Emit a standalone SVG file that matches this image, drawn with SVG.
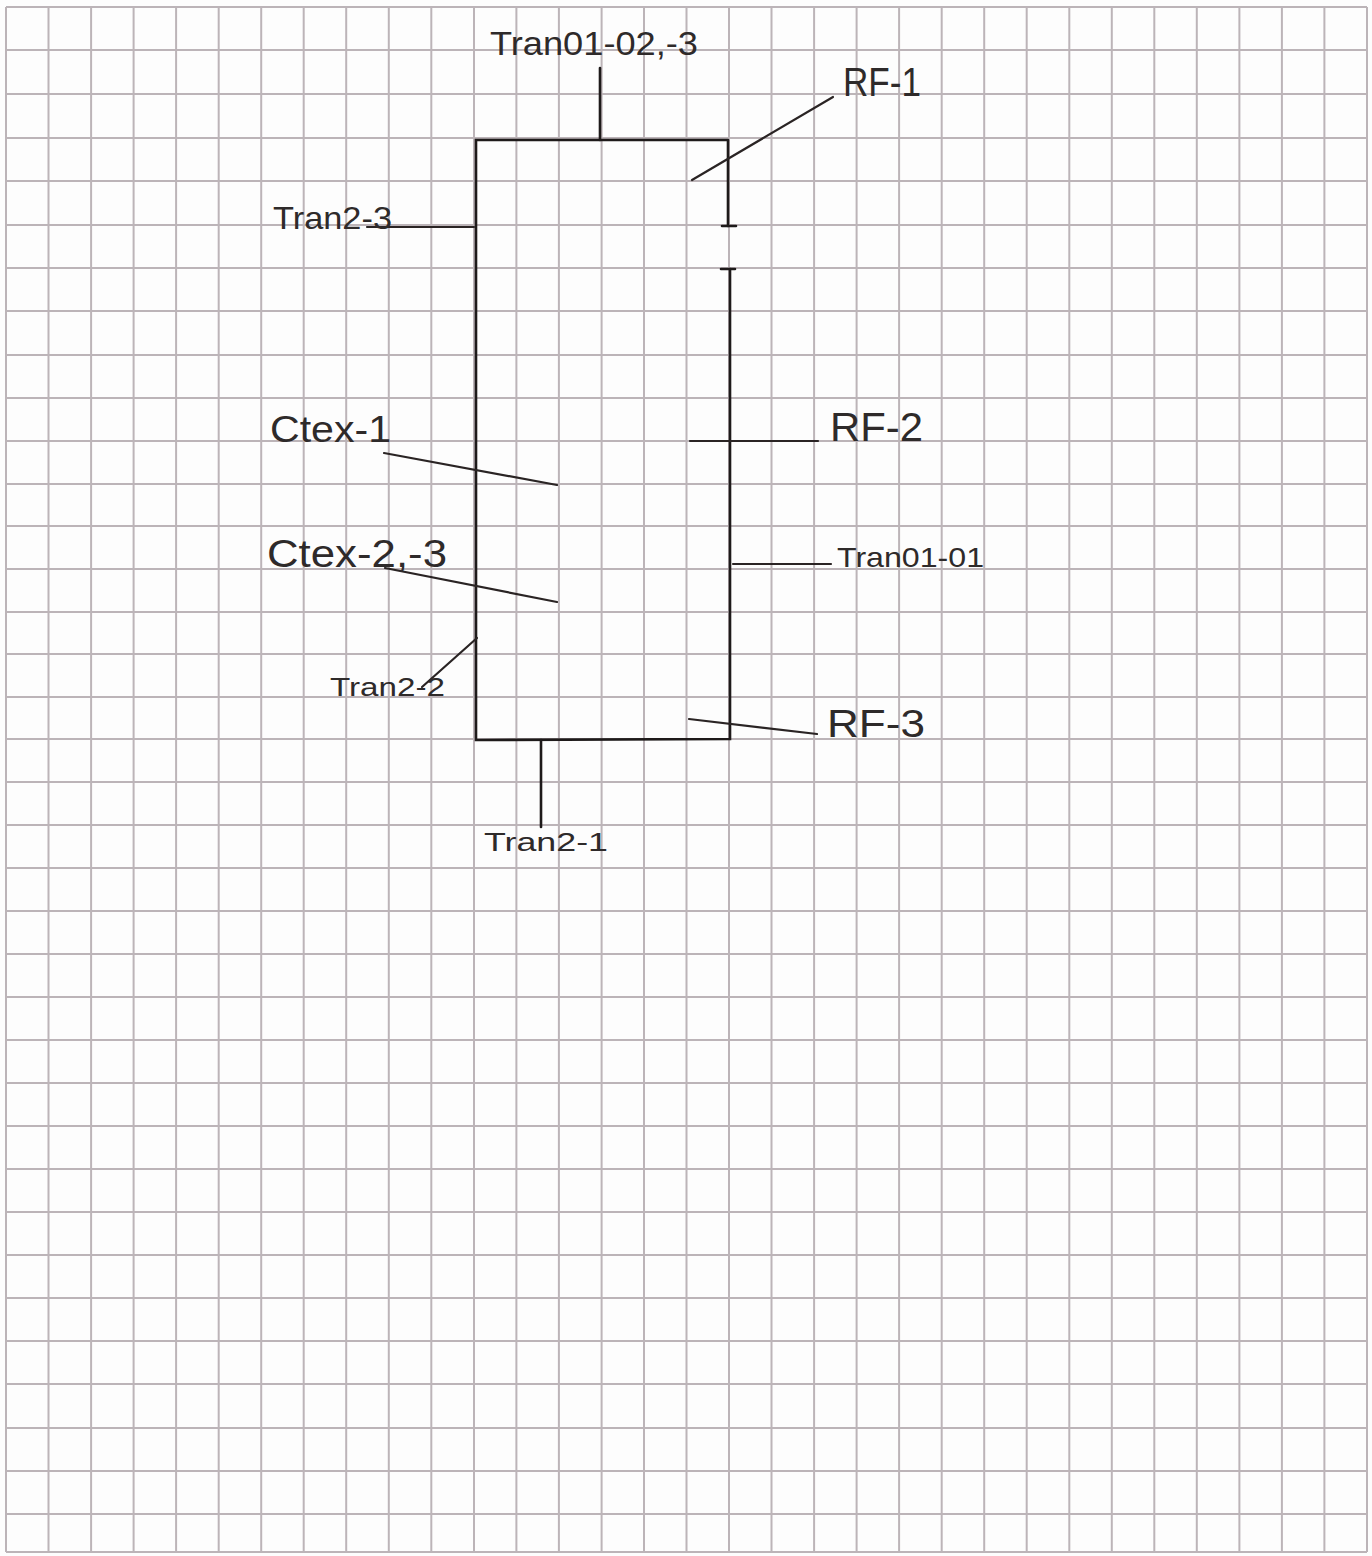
<svg xmlns="http://www.w3.org/2000/svg" width="1372" height="1556" viewBox="0 0 1372 1556">
<style>
.grid{stroke:#bcb4b8;stroke-width:2;fill:none}
.ink{stroke:#1e1a1a;stroke-width:2.6;fill:none;stroke-linecap:round}
.lead{stroke:#2a2424;stroke-width:2.2;fill:none;stroke-linecap:round}
.lbl{font-family:"Liberation Sans",Arial,sans-serif;fill:#2e2a2a;font-weight:normal}
</style>
<rect x="0" y="0" width="1372" height="1556" fill="#fdfdfd"/>
<g id="grid">
<path class="grid" d="M6 7V1552M48.5 7V1552M91.1 7V1552M133.6 7V1552M176.1 7V1552M218.7 7V1552M261.2 7V1552M303.7 7V1552M346.2 7V1552M388.8 7V1552M431.3 7V1552M474 7V1552M516.4 7V1552M558.9 7V1552M601.6 7V1552M644 7V1552M686.5 7V1552M729 7V1552M771.5 7V1552M814.1 7V1552M856.6 7V1552M899.1 7V1552M941.7 7V1552M984.2 7V1552M1026.7 7V1552M1069.3 7V1552M1111.8 7V1552M1154.3 7V1552M1196.8 7V1552M1239.4 7V1552M1281.9 7V1552M1324.4 7V1552M1367 7V1552"/>
<path class="grid" d="M6 7H1367M6 50H1367M6 94H1367M6 138H1367M6 181H1367M6 225H1367M6 268H1367M6 311H1367M6 355H1367M6 398H1367M6 441H1367M6 484H1367M6 526H1367M6 569H1367M6 612H1367M6 654H1367M6 697H1367M6 739H1367M6 782H1367M6 825H1367M6 868H1367M6 911H1367M6 954H1367M6 997H1367M6 1040H1367M6 1083H1367M6 1126H1367M6 1169H1367M6 1212H1367M6 1255H1367M6 1298H1367M6 1341H1367M6 1384H1367M6 1428H1367M6 1471H1367M6 1514H1367M6 1552H1367"/>
</g>
<g id="vessel">
<path class="ink" d="M728 140H476V740L730 739V269M728 226V140"/>
<path class="ink" d="M722 226H736M721 269H735"/>
</g>
<g id="connectors">
<path class="ink" d="M600 68V140"/>
<path class="lead" d="M833 97L692 180"/>
<path class="lead" d="M367 227H474"/>
<path class="lead" d="M384 453L557 485"/>
<path class="lead" d="M385 568L557 602"/>
<path class="lead" d="M422 687L477 638"/>
<path class="lead" d="M690 441H818"/>
<path class="lead" d="M733 564H831"/>
<path class="lead" d="M689 719L817 734"/>
<path class="ink" d="M541 740V827"/>
</g>
<g id="label-tran01-02"><text class="lbl" x="490" y="55" font-size="34" textLength="208" lengthAdjust="spacingAndGlyphs">Tran01-02,-3</text></g>
<g id="label-rf1"><text class="lbl" x="843" y="96" font-size="40" textLength="78" lengthAdjust="spacingAndGlyphs">RF-1</text></g>
<g id="label-tran2-3"><text class="lbl" x="273" y="229" font-size="32" textLength="119" lengthAdjust="spacingAndGlyphs">Tran2-3</text></g>
<g id="label-ctex1"><text class="lbl" x="270" y="442" font-size="36" textLength="121" lengthAdjust="spacingAndGlyphs">Ctex-1</text></g>
<g id="label-ctex23"><text class="lbl" x="267" y="567" font-size="38" textLength="180" lengthAdjust="spacingAndGlyphs">Ctex-2,-3</text></g>
<g id="label-tran2-2"><text class="lbl" x="330" y="696" font-size="26" textLength="115" lengthAdjust="spacingAndGlyphs">Tran2-2</text></g>
<g id="label-rf2"><text class="lbl" x="830" y="441" font-size="40" textLength="93" lengthAdjust="spacingAndGlyphs">RF-2</text></g>
<g id="label-tran01-01"><text class="lbl" x="837" y="567" font-size="28" textLength="147" lengthAdjust="spacingAndGlyphs">Tran01-01</text></g>
<g id="label-rf3"><text class="lbl" x="827" y="737" font-size="38" textLength="98" lengthAdjust="spacingAndGlyphs">RF-3</text></g>
<g id="label-tran2-1"><text class="lbl" x="484" y="851" font-size="26" textLength="124" lengthAdjust="spacingAndGlyphs">Tran2-1</text></g>
</svg>
